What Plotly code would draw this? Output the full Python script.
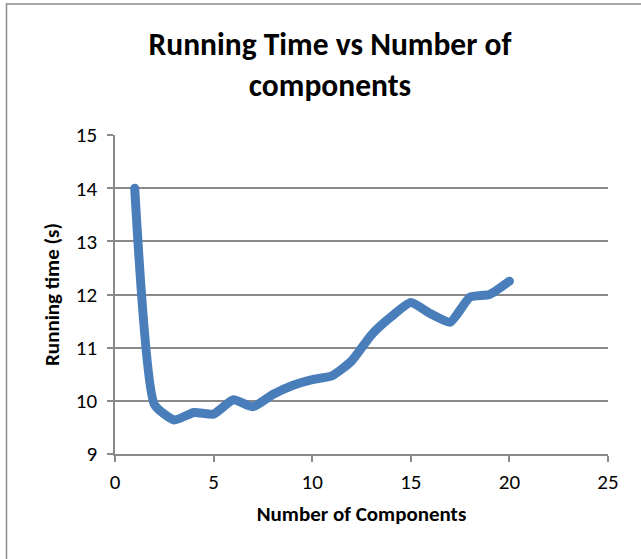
import plotly.graph_objects as go

# Running time measured for each number of components
components = list(range(1, 21))
running_time = [14.0, 9.93, 9.64, 9.78, 9.75, 10.02, 9.89, 10.12, 10.29, 10.4,
                10.47, 10.75, 11.24, 11.58, 11.85, 11.64, 11.48, 11.95, 12.0, 12.25]

x_ticks = [0, 5, 10, 15, 20, 25]
y_ticks = [9, 10, 11, 12, 13, 14, 15]

FONT = "Calibri, Carlito, Lato, sans-serif"
GRID = "#8A8A8A"
LINE = "#4A7EBB"

fig = go.Figure(
    go.Scatter(
        x=components,
        y=running_time,
        mode="lines",
        line=dict(color=LINE, width=9, shape="spline", smoothing=0.5),
        hoverinfo="skip",
    )
)

# Plot area geometry (pixels) used to place the outer chart frame
W, H = 641, 559
L, R, T, B = 115, 33, 135, 105
pw, ph = W - L - R, H - T - B


def px_x(p):
    return (p - L) / pw


def px_y(p):
    return (H - B - p) / ph


fig.update_layout(
    width=W,
    height=H,
    margin=dict(l=L, r=R, t=T, b=B, pad=0),
    paper_bgcolor="white",
    plot_bgcolor="white",
    showlegend=False,
    font=dict(family=FONT, color="#000000"),
    title=dict(
        text="Running Time vs Number of<br>components",
        font=dict(family=FONT, size=31.5, color="#000000", weight="bold"),
        x=px_x(330),
        xref="paper",
        xanchor="center",
        y=1 - 55 / H,
        yref="container",
        yanchor="top",
    ),
    xaxis=dict(
        range=[0, 25],
        tickvals=x_ticks,
        showgrid=False,
        zeroline=False,
        showline=True,
        linecolor=GRID,
        linewidth=1.5,
        ticks="outside",
        ticklen=6,
        tickwidth=1.5,
        tickcolor=GRID,
        tickfont=dict(family=FONT, size=21, color="#000000"),
        ticklabelstandoff=2,
        title=dict(
            text="Number of Components",
            font=dict(family=FONT, size=21, color="#000000", weight="bold"),
            standoff=12,
        ),
        fixedrange=True,
    ),
    yaxis=dict(
        range=[9, 15],
        tickvals=y_ticks,
        showgrid=True,
        gridcolor=GRID,
        gridwidth=1.5,
        zeroline=False,
        showline=True,
        linecolor=GRID,
        linewidth=1.5,
        ticks="outside",
        ticklen=6,
        tickwidth=1.5,
        tickcolor=GRID,
        tickfont=dict(family=FONT, size=21, color="#000000"),
        ticklabelstandoff=6,
        title=dict(
            text="Running time (s)",
            font=dict(family=FONT, size=21, color="#000000", weight="bold"),
            standoff=10,
        ),
        fixedrange=True,
    ),
    shapes=[
        dict(
            type="rect",
            xref="paper",
            yref="paper",
            x0=px_x(6.5),
            x1=px_x(660),
            y0=px_y(580),
            y1=px_y(4),
            line=dict(color="#8C8C8C", width=1.5),
            fillcolor="rgba(0,0,0,0)",
            layer="below",
        )
    ],
)

# Rounded ends and joins on the thick series line
post = (
    "document.querySelectorAll('.scatterlayer .js-line').forEach(function(p){"
    "p.style.strokeLinecap='round';p.style.strokeLinejoin='round';});"
)

fig.write_html("out.html", post_script=post, config={"displayModeBar": False})
